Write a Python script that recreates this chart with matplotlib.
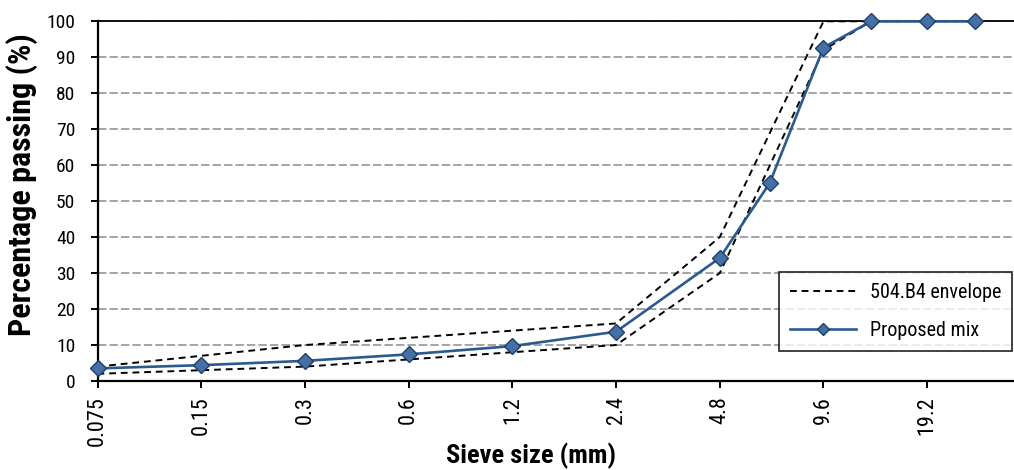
import matplotlib
matplotlib.use("Agg")
import matplotlib.pyplot as plt
from matplotlib import font_manager as fm
from matplotlib.ticker import FixedLocator, FixedFormatter, NullLocator

available = {f.name for f in fm.fontManager.ttflist}
narrow = None
for cand in ['Liberation Sans Narrow', 'Arial Narrow', 'Roboto Condensed',
             'DejaVu Sans Condensed', 'Open Sans Condensed', 'Noto Sans Condensed']:
    if cand in available:
        narrow = cand
        break

if narrow:
    plt.rcParams['font.family'] = [narrow, 'DejaVu Sans']
    fs = dict(ytick=14, xtick=16, legend=14.5, xlabel=19, ylabel=23)
else:
    plt.rcParams['font.family'] = ['Liberation Sans', 'DejaVu Sans']
    fs = dict(ytick=12.5, xtick=14.5, legend=12.8, xlabel=16.5, ylabel=20)

# Data
tick_sizes = [0.075, 0.15, 0.3, 0.6, 1.2, 2.4, 4.8, 9.6, 19.2]
tick_labels = ["0.075", "0.15", "0.3", "0.6", "1.2", "2.4", "4.8", "9.6", "19.2"]

env_sizes = [0.075, 0.15, 0.3, 0.6, 1.2, 2.4, 4.8, 9.6, 13.2, 19.2, 26.5]
env_upper = [4, 7, 10, 12, 14, 16, 40, 100, 100, 100, 100]
env_lower = [2, 3, 4, 6, 8, 10, 30, 92, 100, 100, 100]

mix_sizes = [0.075, 0.15, 0.3, 0.6, 1.2, 2.4, 4.8, 6.7, 9.6, 13.2, 19.2, 26.5]
mix_pass = [3.5, 4.4, 5.6, 7.4, 9.7, 13.7, 34.2, 55, 92.7, 100, 100, 100]

W, H = 1014, 470
fig = plt.figure(figsize=(W / 100, H / 100), dpi=100)
ax_l, ax_r, ax_b, ax_t = 97.5, 1014, 381, 21.3
ax = fig.add_axes([ax_l / W, 1 - ax_b / H, (ax_r - ax_l) / W, (ax_b - ax_t) / H])

ax.set_xscale('log', base=2)
ax.set_xlim(0.075, 34.3)
ax.set_ylim(0, 100)

ax.set_yticks(range(0, 101, 10))
ax.yaxis.grid(True, color='#8c8c8c', linestyle=(0, (5.5, 2)), linewidth=1.1)
ax.set_axisbelow(True)

ax.xaxis.set_major_locator(FixedLocator(tick_sizes))
ax.xaxis.set_major_formatter(FixedFormatter(tick_labels))
ax.xaxis.set_minor_locator(NullLocator())

env_style = dict(color='black', linestyle=(0, (3.5, 2.5)), linewidth=1.4, zorder=3)
ax.plot(env_sizes, env_upper, label='504.B4 envelope', **env_style)
ax.plot(env_sizes, env_lower, **env_style)
ax.plot(mix_sizes, mix_pass, color='#2C5A8E', linewidth=1.9, marker='D',
        markersize=8.6, markerfacecolor='#4470A6', markeredgecolor='#1F3F68',
        markeredgewidth=1.0, label='Proposed mix', zorder=4, clip_on=False)

for s in ['left', 'bottom']:
    ax.spines[s].set_linewidth(1.6)
ax.spines['top'].set_linewidth(1.3)
ax.spines['right'].set_visible(False)

ax.tick_params(axis='y', direction='out', length=5, width=1.4, pad=11,
               labelsize=fs['ytick'])
ax.tick_params(axis='x', direction='out', length=5, width=1.4, pad=6,
               labelsize=fs['xtick'], labelrotation=90)

fig.text(531 / W, 1 - 456 / H, 'Sieve size (mm)', ha='center', va='center',
         fontsize=fs['xlabel'], fontweight='bold')
fig.text(22 / W, 1 - 185 / H, 'Percentage passing (%)', ha='center', va='center',
         rotation=90, fontsize=fs['ylabel'], fontweight='bold')

leg = ax.legend(loc='upper right', bbox_to_anchor=(1012 / W, 1 - 271.7 / H),
                bbox_transform=fig.transFigure, borderaxespad=0, frameon=True,
                fancybox=False, edgecolor='black', fontsize=fs['legend'],
                handlelength=3.3, labelspacing=0.95, borderpad=0.55,
                handletextpad=0.65, markerscale=0.75)
leg.get_frame().set_linewidth(1.3)

fig.savefig('out.png', dpi=100)
